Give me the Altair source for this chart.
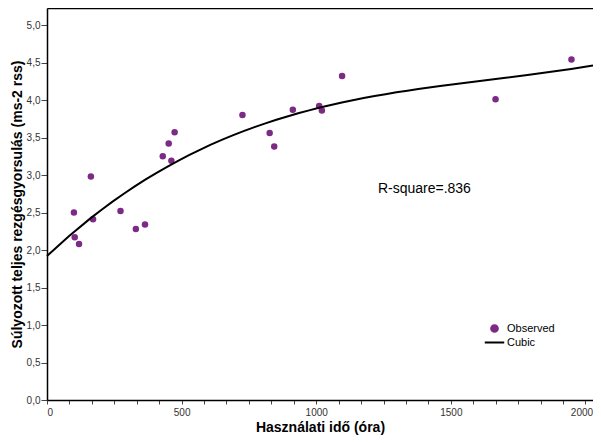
import altair as alt
import pandas as pd

# Observed data (hours of use, weighted total vibration acceleration)
hours = [100, 103, 119, 163, 171, 273, 330, 364, 430, 452, 462, 474,
         726, 827, 844, 913, 1011, 1021, 1096, 1666, 1948]
accel = [2.50, 2.17, 2.08, 2.98, 2.41, 2.52, 2.28, 2.34, 3.25, 3.42, 3.19, 3.57,
         3.80, 3.56, 3.38, 3.87, 3.92, 3.86, 4.32, 4.01, 4.54]

series_names = ["Observed", "Cubic"]
series_colors = ["#7D2A86", "#000000"]
annotation = ["R-square=.836"]
annot_x = [1229]
annot_y = [2.81]

x_max = 2028
y_max = 5.227
x_ticks = [round(i * 500 / 6, 3) for i in range(25)]
y_ticks = [0, 0.5, 1, 1.5, 2, 2.5, 3, 3.5, 4, 4.5, 5]

df = pd.DataFrame({"x": hours, "y": accel, "series": "Observed"})
ann = pd.DataFrame({"x": annot_x, "y": annot_y, "t": annotation})

FONT = "Liberation Sans"
x_scale = alt.Scale(domain=[0, x_max], nice=False)
y_scale = alt.Scale(domain=[0, y_max], nice=False)

x_axis = alt.Axis(values=x_ticks,
                  labelExpr="datum.value % 500 === 0 ? format(datum.value, 'd') : ''",
                  labelOffset={"condition": {"test": "datum.value === 2000", "value": -4},
                               "value": 0},
                  title="Használati idő (óra)", tickSize=4, labelPadding=3,
                  titlePadding=3, labelOverlap=False)
y_axis = alt.Axis(values=y_ticks, tickCount=11,
                  labelExpr="replace(format(datum.value, '.1f'), '.', ',')",
                  title="Súlyozott teljes rezgésgyorsulás (ms-2 rss)",
                  tickSize=6, labelPadding=1, titlePadding=2,
                  labelOverlap=False)

color_scale = alt.Scale(domain=series_names, range=series_colors)
legend = alt.Legend(title=None, orient="none", legendX=442, legendY=315,
                    labelFontSize=11, labelFont=FONT, labelColor="#000",
                    symbolSize=45, rowPadding=0, padding=0, labelOffset=7,
                    symbolStrokeWidth=2)

points = alt.Chart(df).mark_point(filled=True, size=42, opacity=1).encode(
    x=alt.X("x:Q", scale=x_scale, axis=x_axis),
    y=alt.Y("y:Q", scale=y_scale, axis=y_axis),
    color=alt.Color("series:N", scale=color_scale, legend=legend),
    shape=alt.Shape("series:N", scale=alt.Scale(domain=series_names,
                                                  range=["circle", "M-2.9,0H2.9"]),
                    legend=legend),
)

fit = alt.Chart(df).transform_regression(
    "x", "y", method="poly", order=3, extent=[0, x_max]
).transform_calculate(series="'Cubic'").mark_line(strokeWidth=2).encode(
    x=alt.X("x:Q", scale=x_scale, axis=None),
    y=alt.Y("y:Q", scale=y_scale, axis=y_axis),
    color=alt.Color("series:N", scale=color_scale, legend=legend),
)

text = alt.Chart(ann).mark_text(align="left", baseline="middle", fontSize=14,
                                font=FONT, color="#000").encode(
    x=alt.X("x:Q", scale=x_scale,
            axis=alt.Axis(orient="top", labels=False, ticks=False, title=None,
                          domain=True)),
    y=alt.Y("y:Q", scale=y_scale, axis=y_axis),
    text="t:N")

chart = alt.layer(points, fit, text).resolve_axis(x="independent").properties(
    width=546, height=392,
    autosize=alt.AutoSizeParams(type="none"),
    padding={"left": 39, "top": 0, "right": 0, "bottom": 35},
).configure_view(stroke=None).configure_axis(
    labelFont=FONT, labelFontSize=10, labelColor="#333",
    titleFont=FONT, titleFontSize=14, titleFontWeight="bold", titleColor="#000",
    domainColor="#000", domainWidth=1.5, tickColor="#444", grid=False,
)

chart.save("out.html", embed_options={"renderer": "svg", "actions": False})
